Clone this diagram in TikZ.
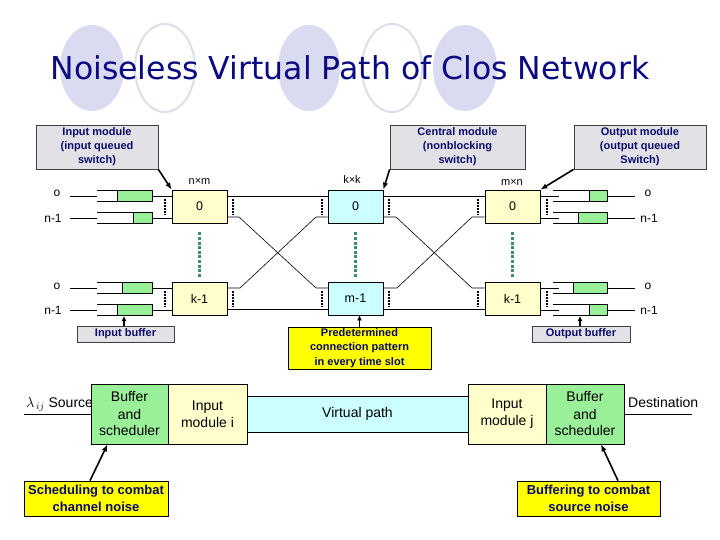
\documentclass[tikz,border=0pt]{standalone}
\usepackage{fontspec}
\setmainfont{Liberation Sans}
\newfontfamily\titlefont{DejaVu Sans}
\usetikzlibrary{arrows.meta}
\definecolor{navy}{RGB}{10,10,130}
\definecolor{calltext}{RGB}{10,10,110}
\definecolor{lav}{RGB}{218,218,240}
\definecolor{lavline}{RGB}{222,222,234}
\definecolor{callgray}{RGB}{226,226,230}
\definecolor{swyellow}{RGB}{255,255,204}
\definecolor{swcyan}{RGB}{204,255,255}
\definecolor{bufgreen}{RGB}{153,240,153}
\definecolor{dotgreen}{RGB}{60,140,110}
\definecolor{cyellow}{RGB}{255,255,0}
\begin{document}
\begin{tikzpicture}[x=1pt,y=-1pt,
  swbox/.style={draw, line width=0.7pt, minimum width=55pt, minimum height=33pt, inner sep=0pt, font=\fontsize{12.5}{14}\selectfont},
  callg/.style={draw=black!75, fill=callgray, line width=0.7pt, align=center, inner sep=0pt, font=\bfseries\fontsize{11}{14}\selectfont, text=calltext},
  cally/.style={draw, fill=cyellow, line width=0.7pt, align=center, inner sep=0pt, text=calltext},
  botbox/.style={draw, line width=0.7pt, align=center, inner sep=0pt, minimum height=60pt, font=\fontsize{14}{17}\selectfont},
  blkdots/.style={line width=2.8pt, dash pattern=on 1.6pt off 1.4pt},
  grndots/.style={line width=3.6pt, dash pattern=on 3pt off 1.6pt, dotgreen},
  wire/.style={line width=0.6pt},
  callarrow/.style={line width=1.6pt, -{Latex[length=7pt,width=5.5pt]}},
  smallarrow/.style={line width=1.4pt, -{Latex[length=5pt,width=5pt]}},
  lbl/.style={font=\fontsize{12}{14}\selectfont, inner sep=0pt}
]
\useasboundingbox (0,0) rectangle (720,540);

% title background
\fill[lav] (92,68) ellipse [x radius=32pt, y radius=43pt];
\draw[lavline, line width=2pt] (165,68) ellipse [x radius=30pt, y radius=44pt];
\fill[lav] (309,68) ellipse [x radius=31pt, y radius=43pt];
\draw[lavline, line width=2pt] (392,68) ellipse [x radius=30pt, y radius=44pt];
\fill[lav] (465,68) ellipse [x radius=32pt, y radius=43pt];
\node[anchor=base, text=navy, font=\titlefont\fontsize{31.5}{36}\selectfont, inner sep=0pt] (title) at (350,80) {Noiseless Virtual Path of Clos Network};

% switch boxes
\node[swbox, fill=swyellow] (i0) at (199.5,206.5) {0};
\node[swbox, fill=swyellow] (ik) at (199.5,298.5) {k-1};
\node[swbox, fill=swcyan] (c0) at (355.5,206.5) {0};
\node[swbox, fill=swcyan] (cm) at (355.5,298.5) {m-1};
\node[swbox, fill=swyellow] (o0) at (512.5,206.5) {0};
\node[swbox, fill=swyellow] (ok) at (512.5,298.5) {k-1};

\node[lbl, font=\fontsize{11}{13}\selectfont] (nxm) at (199.5,181) {n×m};
\node[lbl, font=\fontsize{11}{13}\selectfont] (kxk) at (352,180) {k×k};
\node[lbl, font=\fontsize{11}{13}\selectfont] (mxn) at (512,182) {m×n};

% green dotted
\draw[grndots] ([yshift=-9pt]i0.south) -- ([yshift=4pt]ik.north);
\draw[grndots] ([yshift=-9pt]c0.south) -- ([yshift=4pt]cm.north);
\draw[grndots] ([yshift=-9pt]o0.south) -- ([yshift=4pt]ok.north);

% interstage wires
\draw[wire] (i0.east |- 0,196) -- (c0.west |- 0,196);
\draw[wire] (ik.east |- 0,309) -- (cm.west |- 0,309);
\draw[wire] (i0.east |- 0,217) -- (239,217) -- (316,288) -- (cm.west |- 0,288);
\draw[wire] (ik.east |- 0,288) -- (240,288) -- (316,217) -- (c0.west |- 0,217);
\draw[wire] (c0.east |- 0,196) -- (o0.west |- 0,196);
\draw[wire] (cm.east |- 0,309) -- (ok.west |- 0,309);
\draw[wire] (c0.east |- 0,217) -- (396,217) -- (472,288) -- (ok.west |- 0,288);
\draw[wire] (cm.east |- 0,288) -- (397,288) -- (472,217) -- (o0.west |- 0,217);

% black dots
\foreach \x in {165,233,322,389,478,547} {
  \draw[blkdots] (\x,199) -- (\x,215);
  \draw[blkdots] (\x,291) -- (\x,307);
}

% input buffers
\foreach \y/\g in {196/117, 218/133, 288/122, 310/117} {
  \draw[wire] (70,\y) -- (97,\y);
  \fill[bufgreen] (\g,\y-5.5) rectangle (152,\y+5.5);
  \draw[wire] (97,\y-5.5) -- (152,\y-5.5) -- (152,\y+5.5) -- (97,\y+5.5);
  \draw[wire] (\g,\y-5.5) -- (\g,\y+5.5);
}
\draw[wire] (152,196) -- (i0.west |- 0,196);
\draw[wire] (152,218) -- (i0.west |- 0,218);
\draw[wire] (152,288) -- (ik.west |- 0,288);
\draw[wire] (152,310) -- (ik.west |- 0,310);

% output buffers
\foreach \y/\g in {196/589, 218/578, 288/573, 310/589} {
  \fill[bufgreen] (\g,\y-5.5) rectangle (607,\y+5.5);
  \draw[wire] (553,\y-5.5) -- (607,\y-5.5) -- (607,\y+5.5) -- (553,\y+5.5);
  \draw[wire] (\g,\y-5.5) -- (\g,\y+5.5);
  \draw[wire] (607,\y) -- (635,\y);
}
\draw[wire] (o0.east |- 0,196) -- (559,196);
\draw[wire] (o0.east |- 0,218) -- (559,218);
\draw[wire] (ok.east |- 0,288) -- (559,288);
\draw[wire] (ok.east |- 0,310) -- (559,310);

% port labels
\node[lbl] (li0) at (57,193) {o};
\node[lbl] (li1) at (53,218) {n-1};
\node[lbl] (li2) at (57,286) {o};
\node[lbl] (li3) at (53,310) {n-1};
\node[lbl] (lo0) at (648,193) {o};
\node[lbl] (lo1) at (649,218) {n-1};
\node[lbl] (lo2) at (648,286) {o};
\node[lbl] (lo3) at (649,310) {n-1};

% top callouts
\node[callg, minimum width=122pt, minimum height=44pt] (cin) at (97,147) {Input module\\(input queued\\switch)};
\node[callg, minimum width=135pt, minimum height=44pt] (ccen) at (457.5,147) {Central module\\(nonblocking\\switch)};
\node[callg, minimum width=132pt, minimum height=44pt] (cout) at (640,147) {Output module\\(output queued\\Switch)};
\draw[callarrow] (cin.south east) -- (i0.north west);
\draw[callarrow] (ccen.south west) -- (c0.north east);
\draw[callarrow] (cout.south west) -- (o0.north east);

% lower callouts
\node[callg, minimum width=97pt, minimum height=16pt] (cib) at (125.5,334) {Input buffer};
\node[cally, minimum width=143pt, minimum height=42pt, font=\bfseries\fontsize{11}{14.5}\selectfont] (cpre) at (359.5,348) {Predetermined\\connection pattern\\in every time slot};
\node[callg, minimum width=98pt, minimum height=16pt] (cob) at (581,334) {Output buffer};
\draw[smallarrow] (124,326) -- (124,316);
\draw[smallarrow] (cpre.north) -- (cm.south -| cpre.north);
\draw[smallarrow] (580,326) -- (580,316);

% bottom row
\node[botbox, fill=bufgreen, minimum width=77pt] (bs1) at (129.5,414) {Buffer\\and\\scheduler};
\node[botbox, fill=swyellow, minimum width=79pt] (im1) at (207.5,414) {Input\\module i};
\node[draw, line width=0.7pt, fill=swcyan, minimum width=221pt, minimum height=36pt, inner sep=0pt, font=\fontsize{14}{17}\selectfont] (vp) at (357.5,414) {Virtual path};
\node[botbox, fill=swyellow, minimum width=78pt] (im2) at (507,414) {Input\\module j};
\node[botbox, fill=bufgreen, minimum width=78pt] (bs2) at (585,414) {Buffer\\and\\scheduler};

\coordinate (srcend) at (24,414);
\coordinate (dstend) at (692,414);
\draw[line width=0.7pt] (srcend) -- (bs1.west);
\draw[line width=0.7pt] (bs2.east) -- (dstend);
\node[anchor=base west, inner sep=0pt, font=\fontsize{14}{17}\selectfont] (srclbl) at (26,407) {$\lambda_{\,ij}$ Source};
\node[anchor=base west, inner sep=0pt, font=\fontsize{14}{17}\selectfont] (dstlbl) at (628,407) {Destination};

\node[cally, minimum width=144pt, minimum height=35pt, font=\bfseries\fontsize{13}{17}\selectfont] (csch) at (96,498.5) {Scheduling to combat\\channel noise};
\node[cally, minimum width=143pt, minimum height=35pt, font=\bfseries\fontsize{13}{17}\selectfont] (cbuf) at (588.5,498.5) {Buffering to combat\\source noise};
\draw[callarrow] ([xshift=-6pt]csch.north) -- ([xshift=-22pt]bs1.south);
\draw[callarrow] ([xshift=29.5pt]cbuf.north) -- ([xshift=16pt]bs2.south);
\end{tikzpicture}
\end{document}
